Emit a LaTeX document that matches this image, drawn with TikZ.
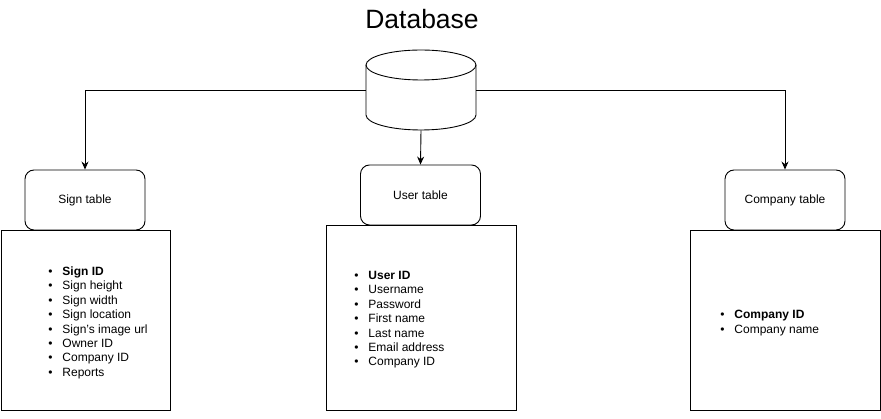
\documentclass[tikz,border=0pt]{standalone}
\usepackage{fontspec}
\setmainfont{Liberation Sans}
\usetikzlibrary{arrows.meta}
\newcommand{\itm}[1]{\makebox[14pt][l]{\raisebox{0pt}{•}}#1}
\begin{document}
\begin{tikzpicture}[x=1pt,y=-1pt,
  line width=0.9pt,
  every node/.style={font=\fontsize{12}{14.4}\selectfont},
  tablebox/.style={draw, rounded corners=9pt, minimum width=120pt, minimum height=60pt, inner sep=0pt},
  listbox/.style={draw, inner sep=0pt},
  listtext/.style={anchor=base west, inner sep=0pt, align=left},
  conn/.style={-{Stealth[length=8pt,width=7pt]}}
]
\useasboundingbox (0,0) rectangle (881,419);
% title
\node[font=\fontsize{26.5}{30}\selectfont] (title) at (422,19) {Database};
% database cylinder
\node[minimum width=110pt, minimum height=80pt, inner sep=0pt] (db) at (421,90) {};
\draw[fill=white] (366,65) -- (366,115) arc[start angle=180, end angle=360, x radius=55pt, y radius=15pt] -- (476,65);
\draw (421,65) ellipse [x radius=55pt, y radius=15pt];
% table headers
\node[tablebox] (sign) at (85,200) {Sign table};
\node[tablebox] (user) at (420.5,195) {User table};
\node[tablebox] (company) at (785,200) {Company table};
% list boxes
\node[listbox, minimum width=169pt, minimum height=180pt] (signbox) at (85.5,320) {};
\node[listbox, minimum width=190pt, minimum height=185pt] (userbox) at (421,317.5) {};
\node[listbox, minimum width=190pt, minimum height=180pt] (companybox) at (785,320) {};
% lists
\node[listtext] (signlist) at (48,275.5) {\begin{tabular}[t]{@{}l@{}}
\itm{\textbf{Sign ID}}\\ \itm{Sign height}\\ \itm{Sign width}\\ \itm{Sign location}\\
\itm{Sign's image url}\\ \itm{Owner ID}\\ \itm{Company ID}\\ \itm{Reports}\end{tabular}};
\node[listtext] (userlist) at (354,279.5) {\begin{tabular}[t]{@{}l@{}}
\itm{\textbf{User ID}}\\ \itm{Username}\\ \itm{Password}\\ \itm{First name}\\
\itm{Last name}\\ \itm{Email address}\\ \itm{Company ID}\end{tabular}};
\node[listtext] (companylist) at (720,319) {\begin{tabular}[t]{@{}l@{}}
\itm{\textbf{Company ID}}\\ \itm{Company name}\end{tabular}};
% connectors
\draw[conn] (db.west) -| (sign.north);
\draw[conn] (db.south) -- (user.north);
\draw[conn] (db.east) -| (company.north);
\end{tikzpicture}
\end{document}
